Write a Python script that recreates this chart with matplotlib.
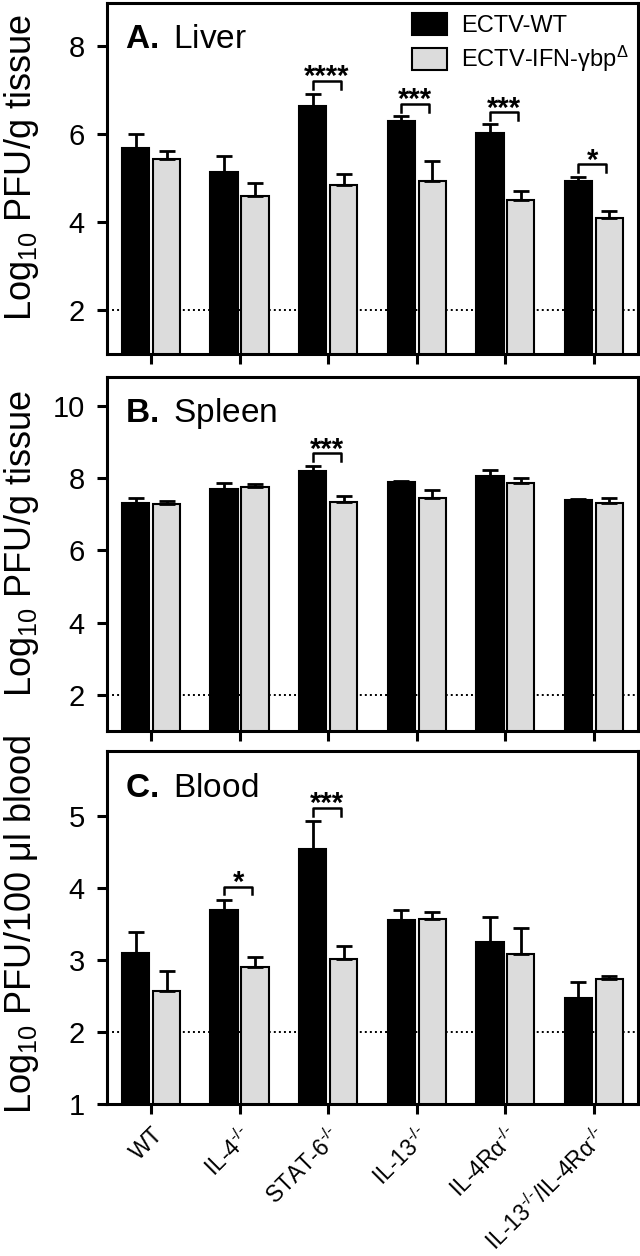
import matplotlib
matplotlib.use('Agg')
import matplotlib.pyplot as plt
from matplotlib.patches import Patch
import numpy as np

plt.rcParams['font.family'] = ['Liberation Sans', 'DejaVu Sans']
plt.rcParams['mathtext.fontset'] = 'custom'
plt.rcParams['mathtext.rm'] = 'Liberation Sans'
plt.rcParams['mathtext.it'] = 'Liberation Sans:italic'
plt.rcParams['mathtext.bf'] = 'Liberation Sans:bold'

# mouse strains
ko = r'$^{\text{-/-}}$'
groups = ['WT', 'IL-4' + ko, 'STAT-6' + ko, 'IL-13' + ko,
          'IL-4Rα' + ko, 'IL-13' + ko + '/IL-4Rα' + ko]
series = ['ECTV-WT', 'ECTV-IFN-γbp$^{\\Delta}$']

# A. Liver
liver_wt = [5.70, 5.14, 6.64, 6.31, 6.04, 4.95]
liver_wt_err = [0.31, 0.36, 0.29, 0.10, 0.20, 0.09]
liver_ko = [5.44, 4.59, 4.84, 4.95, 4.50, 4.09]
liver_ko_err = [0.18, 0.30, 0.26, 0.45, 0.22, 0.17]
liver_sig_idx = [2, 3, 4, 5]
liver_sig_y = [7.21, 6.69, 6.50, 5.32]
liver_sig_txt = ['****', '***', '***', '*']

# B. Spleen
spleen_wt = [7.30, 7.70, 8.19, 7.89, 8.06, 7.38]
spleen_wt_err = [0.16, 0.16, 0.13, 0.04, 0.17, 0.05]
spleen_ko = [7.28, 7.75, 7.33, 7.46, 7.85, 7.32]
spleen_ko_err = [0.09, 0.09, 0.16, 0.22, 0.16, 0.12]
spleen_sig_idx = [2]
spleen_sig_y = [8.68]
spleen_sig_txt = ['***']

# C. Blood
blood_wt = [3.09, 3.69, 4.54, 3.56, 3.25, 2.47]
blood_wt_err = [0.30, 0.14, 0.39, 0.13, 0.34, 0.23]
blood_ko = [2.57, 2.90, 3.02, 3.57, 3.08, 2.74]
blood_ko_err = [0.27, 0.14, 0.17, 0.10, 0.37, 0.04]
blood_sig_idx = [1, 2]
blood_sig_y = [4.02, 5.11]
blood_sig_txt = ['*', '***']

grey = '#dcdcdc'
x = np.arange(len(groups))
w = 0.31
off = 0.175

fig = plt.figure(figsize=(6.4, 12.56), dpi=100)
ax_a = fig.add_axes([0.167, 0.718, 0.830, 0.280])
ax_b = fig.add_axes([0.167, 0.418, 0.830, 0.282])
ax_c = fig.add_axes([0.167, 0.121, 0.830, 0.281])


def draw_panel(ax, wt, wt_err, ko, ko_err, ylim, yticks, ylabel, lab_y, letter, name,
               sig_idx, sig_y, sig_txt, leg):
    ax.axhline(2, color='black', ls=(0, (1, 1.6)), lw=1.4, zorder=0.5)
    ax.bar(x - off, wt, w, color='black', edgecolor='black', lw=1.5, zorder=2)
    ax.bar(x + off, ko, w, color=grey, edgecolor='black', lw=1.5, zorder=2)
    z = np.zeros(len(x))
    ax.errorbar(x - off, wt, yerr=[z, wt_err], fmt='none', ecolor='black',
                elinewidth=2, capsize=6, capthick=2, zorder=3)
    ax.errorbar(x + off, ko, yerr=[z, ko_err], fmt='none', ecolor='black',
                elinewidth=2, capsize=6, capthick=2, zorder=3)
    leg_len = (ylim[1] - ylim[0]) * 0.022
    for i, yb, t in zip(sig_idx, sig_y, sig_txt):
        x0, x1 = i - off, i + 0.14
        ax.plot([x0, x0, x1, x1], [yb - leg_len, yb, yb, yb - leg_len],
                color='black', lw=1.8, zorder=3)
        ax.annotate(t, ((x0 + x1) / 2, yb), xytext=(0, -3),
                    textcoords='offset points', ha='center', va='baseline',
                    fontsize=21, fontweight='bold')
    ax.set_xlim(-0.5, 5.5)
    ax.set_ylim(*ylim)
    ax.set_yticks(yticks)
    ax.set_xticks(x)
    for s in ax.spines.values():
        s.set_linewidth(2.2)
    ax.tick_params(direction='out', length=7, width=2.2, labelsize=21)
    ax.tick_params(axis='y', pad=9)
    ax.set_ylabel(ylabel, fontsize=26)
    ax.yaxis.set_label_coords(-0.124, lab_y)
    ax.text(0.035, 0.895, r'$\mathbf{' + letter + '.}$ ' + name,
            transform=ax.transAxes, fontsize=24, va='center', ha='left')
    if leg:
        handles = [Patch(facecolor='black', edgecolor='black', lw=1.5),
                   Patch(facecolor=grey, edgecolor='black', lw=1.5)]
        ax.legend(handles, series, loc='upper right', bbox_to_anchor=(0.982, 0.97),
                  frameon=False, fontsize=17, handlelength=1.45,
                  handleheight=1.05, handletextpad=0.6, labelspacing=0.3,
                  borderpad=0, borderaxespad=0)


draw_panel(ax_a, liver_wt, liver_wt_err, liver_ko, liver_ko_err, (1, 9),
           [2, 4, 6, 8], 'Log$_{10}$ PFU/g tissue', 0.53, 'A', 'Liver',
           liver_sig_idx, liver_sig_y, liver_sig_txt, True)
draw_panel(ax_b, spleen_wt, spleen_wt_err, spleen_ko, spleen_ko_err, (1, 10.8),
           [2, 4, 6, 8, 10], 'Log$_{10}$ PFU/g tissue', 0.53, 'B', 'Spleen',
           spleen_sig_idx, spleen_sig_y, spleen_sig_txt, False)
draw_panel(ax_c, blood_wt, blood_wt_err, blood_ko, blood_ko_err, (1, 5.9),
           [1, 2, 3, 4, 5], 'Log$_{10}$ PFU/100 μl blood', 0.51, 'C', 'Blood',
           blood_sig_idx, blood_sig_y, blood_sig_txt, False)

ax_a.set_xticklabels([])
ax_b.set_xticklabels([])
ax_c.set_xticklabels(groups, rotation=45, ha='right', rotation_mode='anchor',
                     fontsize=16.5)
ax_c.tick_params(axis='x', pad=7)

fig.savefig('out.png', dpi=100)
